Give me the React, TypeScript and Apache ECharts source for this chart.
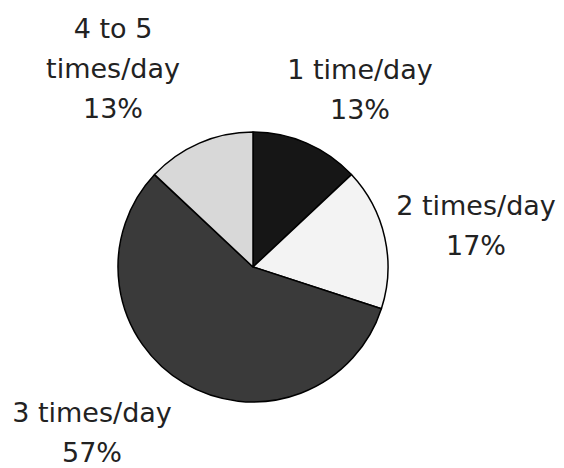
import React, { useEffect, useRef } from "react";
import * as echarts from "echarts";

const categories = ["1 time/day", "2 times/day", "3 times/day", "4 to 5\ntimes/day"];
const values = [13, 17, 57, 13];
const colors = ["#161616", "#f3f3f3", "#3a3a3a", "#d8d8d8"];
const labelPos: [number, number][] = [
  [360, 89],
  [476, 225],
  [92, 432],
  [113, 68],
];

export default function App() {
  const ref = useRef<HTMLDivElement>(null);
  useEffect(() => {
    if (!ref.current) return;
    const chart = echarts.init(ref.current, undefined, { renderer: "svg" });
    chart.setOption({
      animation: false,
      backgroundColor: "#ffffff",
      series: [
        {
          type: "pie",
          center: [253, 267],
          radius: [0, 135],
          startAngle: 90,
          clockwise: true,
          percentPrecision: 0,
          data: categories.map((c, i) => ({
            name: c,
            value: values[i],
            itemStyle: { color: colors[i] },
          })),
          itemStyle: { borderColor: "#000", borderWidth: 1.5 },
          label: {
            show: true,
            position: "outside",
            formatter: "{b}\n{d}%",
            fontFamily: "DejaVu Sans",
            fontSize: 27,
            lineHeight: 40,
            color: "#222222",
            align: "center",
            overflow: "none",
            width: 220,
          },
          labelLine: { show: false },
          labelLayout: (p: any) => ({
            x: labelPos[p.dataIndex][0],
            y: labelPos[p.dataIndex][1],
            align: "center",
            verticalAlign: "middle",
          }),
          emphasis: { disabled: true },
        },
      ],
    });
    return () => chart.dispose();
  }, []);
  return (
    <div
      ref={ref}
      style={{ position: "fixed", left: 0, top: 0, width: 564, height: 468 }}
    />
  );
}
